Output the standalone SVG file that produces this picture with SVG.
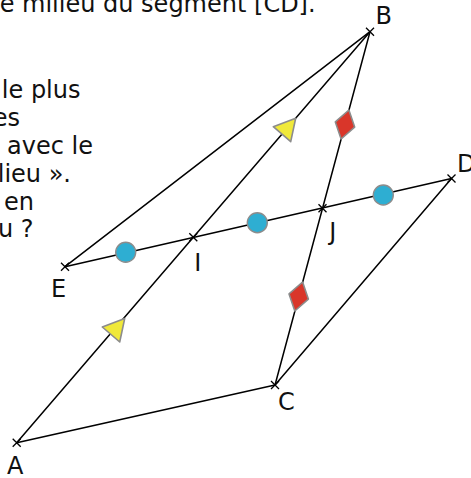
<svg xmlns="http://www.w3.org/2000/svg" width="471" height="478" viewBox="0 0 471 478">
<style>
.txt{font-family:"DejaVu Sans","Liberation Sans",sans-serif;font-size:24px;fill:#111}
.seg{stroke:#000;stroke-width:1.5;fill:none;stroke-linecap:round}
.pt{stroke:#000;stroke-width:1.3;fill:none}
.tri{fill:#f0e93a;stroke:#8c8c8c;stroke-width:1.6;stroke-linejoin:round}
.dia{fill:#d9362a;stroke:#8c8c8c;stroke-width:1.6;stroke-linejoin:round}
.dot{fill:#2eaed2;stroke:#8c8c8c;stroke-width:1.4}
</style>
<defs>
<path id="cross" d="M-4,-4 L4,4 M-4,4 L4,-4"/>
<path id="triShape" d="M21,0 L0,-11.5 L0,11.5 Z"/>
<path id="diaShape" d="M-15,0 L0,-10 L15,0 L0,10 Z"/>
</defs>
<rect width="471" height="478" fill="#fff"/>
<g id="text">
<text class="txt" x="315.6" y="11.5" text-anchor="end">e milieu du segment [CD].</text>
<text class="txt" x="80.5" y="98" text-anchor="end">le plus</text>
<text class="txt" x="20" y="126" text-anchor="end">es</text>
<text class="txt" x="93" y="154" text-anchor="end">avec le</text>
<text class="txt" x="71" y="181.5" text-anchor="end">lieu ».</text>
<text class="txt" x="34" y="209.5" text-anchor="end">en</text>
<text class="txt" x="33.5" y="237" text-anchor="end">u ?</text>
</g>
<g id="connectors">
<line class="seg" x1="16.7" y1="442.7" x2="370" y2="31.7"/>
<line class="seg" x1="65" y1="266.7" x2="370" y2="31.7"/>
<line class="seg" x1="65" y1="266.7" x2="451.5" y2="178.5"/>
<line class="seg" x1="370" y1="31.7" x2="275" y2="385"/>
<line class="seg" x1="16.7" y1="442.7" x2="275" y2="385"/>
<line class="seg" x1="275" y1="385" x2="451.5" y2="178.5"/>
</g>
<g id="markers">
<use href="#triShape" class="tri" transform="translate(282,134.2) rotate(-49.3)"/>
<use href="#triShape" class="tri" transform="translate(111,334.5) rotate(-49.3)"/>
<use href="#diaShape" class="dia" transform="translate(345,124.5) rotate(105)"/>
<use href="#diaShape" class="dia" transform="translate(298.7,296.5) rotate(105)"/>
<circle class="dot" cx="125.7" cy="252.3" r="10"/>
<circle class="dot" cx="257.3" cy="222.7" r="10"/>
<circle class="dot" cx="383.3" cy="195" r="10"/>
</g>
<g id="node-A"><use href="#cross" class="pt" x="16.7" y="442.7"/><text class="txt" x="7" y="474">A</text></g>
<g id="node-B"><use href="#cross" class="pt" x="370" y="31.7"/><text class="txt" x="375.6" y="24">B</text></g>
<g id="node-C"><use href="#cross" class="pt" x="275" y="385"/><text class="txt" x="278" y="410">C</text></g>
<g id="node-D"><use href="#cross" class="pt" x="451.5" y="178.5"/><text class="txt" x="457" y="172">D</text></g>
<g id="node-E"><use href="#cross" class="pt" x="65" y="266.7"/><text class="txt" x="51" y="297">E</text></g>
<g id="node-I"><use href="#cross" class="pt" x="193.3" y="237.2"/><text class="txt" x="194.3" y="271">I</text></g>
<g id="node-J"><use href="#cross" class="pt" x="322.5" y="208.3"/><text class="txt" x="329.3" y="240">J</text></g>
</svg>
